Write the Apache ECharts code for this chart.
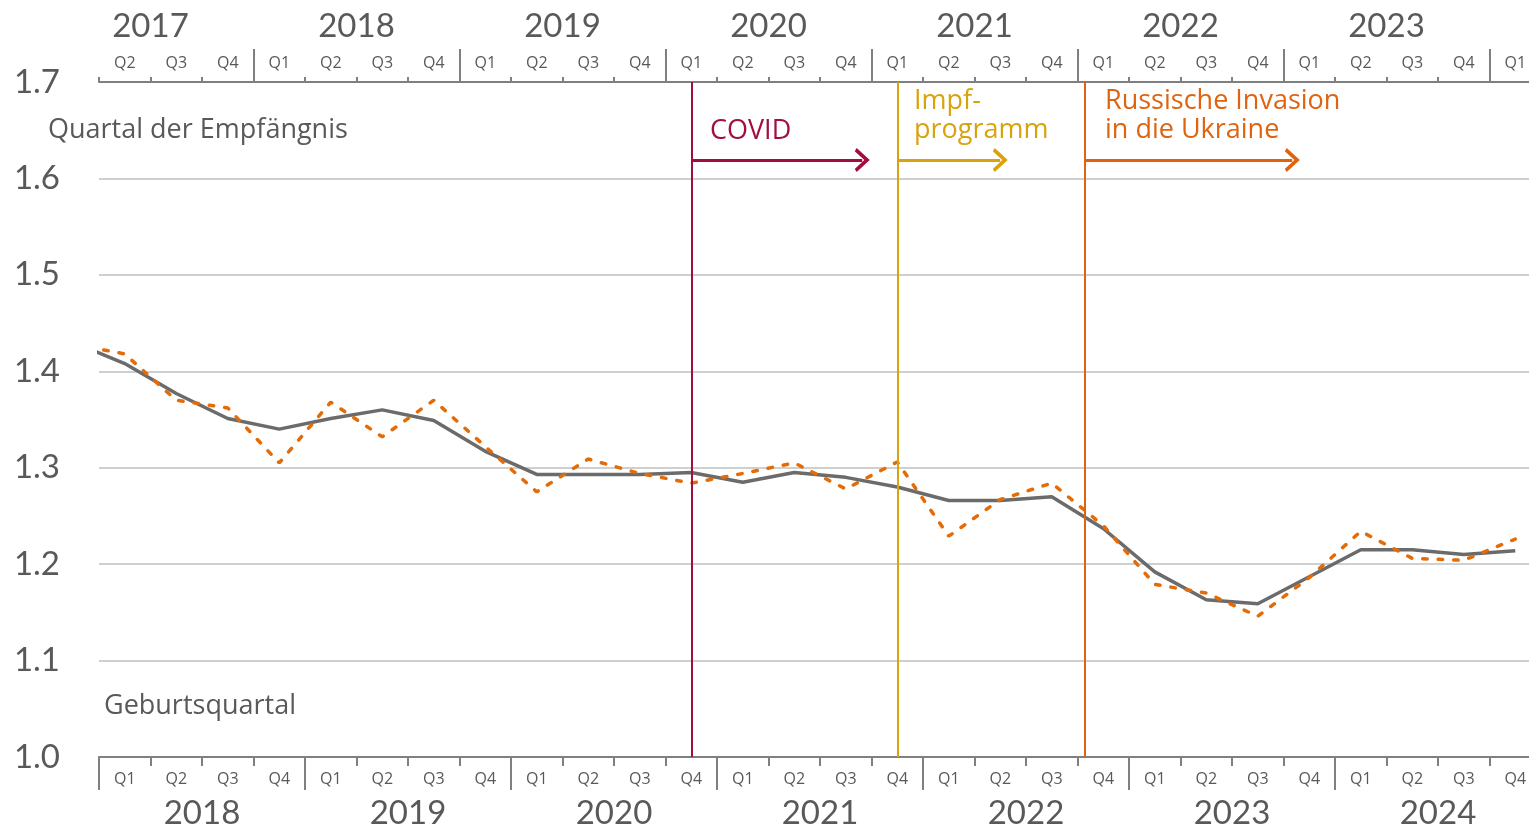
<!DOCTYPE html>
<html>
<head>
<meta charset="utf-8">
<script src="https://cdn.jsdelivr.net/npm/echarts@6.0.0/dist/echarts.min.js"></script>
<style>
	html, body { margin: 0; padding: 0; background: #fff; }
	#chart { width: 1529px; height: 828px; }
</style>
</head>
<body>
<div id="chart"></div>
<script>
// Geburtsquartal (unten) und Quartal der Empfängnis (oben)
var geburtsQuartale = ['Q1', 'Q2', 'Q3', 'Q4', 'Q1', 'Q2', 'Q3', 'Q4', 'Q1', 'Q2', 'Q3', 'Q4', 'Q1', 'Q2',
	'Q3', 'Q4', 'Q1', 'Q2', 'Q3', 'Q4', 'Q1', 'Q2', 'Q3', 'Q4', 'Q1', 'Q2', 'Q3', 'Q4'];
var geburtsJahre = ['2018', '2019', '2020', '2021', '2022', '2023', '2024'];
var empfQuartale = ['Q2', 'Q3', 'Q4', 'Q1', 'Q2', 'Q3', 'Q4', 'Q1', 'Q2', 'Q3', 'Q4', 'Q1', 'Q2', 'Q3',
	'Q4', 'Q1', 'Q2', 'Q3', 'Q4', 'Q1', 'Q2', 'Q3', 'Q4', 'Q1', 'Q2', 'Q3', 'Q4', 'Q1'];
var empfJahre = ['2017', '2018', '2019', '2020', '2021', '2022', '2023', '2024'];

// erster Wert = Quartal vor 2018 Q1 (nur angeschnitten sichtbar)
var geburt = [1.430, 1.408, 1.377, 1.351, 1.340, 1.351, 1.360, 1.349, 1.317, 1.293, 1.293, 1.293, 1.295,
	1.285, 1.295, 1.290, 1.280, 1.266, 1.266, 1.270, 1.237, 1.192, 1.163, 1.159, 1.187, 1.215, 1.215,
	1.210, 1.214];
var empfaengnis = [1.428, 1.418, 1.370, 1.362, 1.305, 1.368, 1.332, 1.370, 1.322, 1.275, 1.309, 1.294,
	1.284, 1.294, 1.305, 1.278, 1.306, 1.229, 1.267, 1.284, 1.240, 1.179, 1.170, 1.146, 1.186, 1.234,
	1.206, 1.204, 1.226];

var yMin = 1.0, yMax = 1.7, yStep = 0.1;

// Ereignisse: Lage auf der Quartalsachse (Index), Pfeilende, Höhe des Pfeils
var ereignisName = ['COVID', 'Impf-\nprogramm', 'Russische Invasion\nin die Ukraine'];
var ereignisStart = [11, 15, 18.65];
var ereignisEnde = [14.32, 17.0, 22.67];
var pfeilWert = 1.619;
var ereignisFarbe = ['#a30d3f', '#d8a30c', '#e0640f'];

var grau = '#595959';
var achsGrau = '#808080';
var schrift = 'Lato';
var textSchrift = '"Open Sans"';

function toPoints(arr) {
	var out = [];
	for (var i = 0; i < arr.length; i++) {
		out.push([i - 1, arr[i]]);
	}
	return out;
}

var pfeil = 'path://M0,13 L12,0 L24,13 L20.8,15 L12,5.4 L3.2,15 Z';

var markData = [];
for (var k = 0; k < ereignisStart.length; k++) {
	markData.push({
		xAxis: ereignisStart[k],
		symbol: 'none',
		lineStyle: { color: ereignisFarbe[k], width: 2, type: 'solid' }
	});
	markData.push([{
		coord: [ereignisStart[k], pfeilWert],
		symbol: 'none',
		lineStyle: { color: ereignisFarbe[k], width: 3, type: 'solid' }
	}, {
		coord: [ereignisEnde[k], pfeilWert],
		symbol: pfeil,
		symbolSize: [24, 15]
	}]);
}

var texte = [
	{ type: 'text', left: 48, top: 117, style: { text: 'Quartal der Empfängnis', font: '27px ' + textSchrift, fill: grau } },
	{ type: 'text', left: 104, top: 693, style: { text: 'Geburtsquartal', font: '27px ' + textSchrift, fill: grau } }
];
var textX = [710, 914, 1105];
var textY = [117, 87, 87];
for (var t = 0; t < ereignisName.length; t++) {
	texte.push({
		type: 'text', left: textX[t], top: textY[t],
		style: { text: ereignisName[t], font: '27px ' + textSchrift, fill: ereignisFarbe[t], lineHeight: 29 }
	});
}

var myChart = echarts.init(document.getElementById('chart'));
var option = {
	animation: false,
	textStyle: { fontFamily: schrift },
	grid: [
		{ left: 99, right: -12, top: 82, bottom: 71, outerBoundsMode: 'none', containLabel: false },
		{ left: 47.5, right: -166.5, top: 82, bottom: 71, outerBoundsMode: 'none', containLabel: false }
	],
	xAxis: [{
			type: 'value',
			gridIndex: 0,
			min: -0.5,
			max: 27.5,
			show: false
		}, {
			type: 'category',
			gridIndex: 0,
			position: 'bottom',
			data: geburtsQuartale,
			axisLine: { show: true, onZero: false, lineStyle: { color: achsGrau, width: 2 } },
			axisTick: { show: true, length: 9, interval: 0, lineStyle: { color: achsGrau, width: 2 } },
			axisLabel: { interval: 0, fontSize: 16, fontFamily: textSchrift, color: grau, margin: 14 },
			splitLine: { show: false }
		}, {
			type: 'category',
			gridIndex: 0,
			position: 'bottom',
			data: geburtsJahre,
			axisLine: { show: false, onZero: false },
			axisTick: { show: true, length: 33, interval: 0, lineStyle: { color: achsGrau, width: 2 } },
			axisLabel: { interval: 0, fontSize: 33, color: grau, margin: 40 },
			splitLine: { show: false }
		}, {
			type: 'category',
			gridIndex: 0,
			position: 'top',
			data: empfQuartale,
			axisLine: { show: true, onZero: false, lineStyle: { color: achsGrau, width: 2 } },
			axisTick: { show: true, length: 5, interval: 0, lineStyle: { color: achsGrau, width: 2 } },
			axisLabel: { interval: 0, fontSize: 16, fontFamily: textSchrift, color: grau, margin: 11 },
			splitLine: { show: false }
		}, {
			type: 'category',
			gridIndex: 1,
			position: 'top',
			data: empfJahre,
			axisLine: { show: false, onZero: false },
			axisTick: {
				show: true,
				length: 33,
				interval: function(i) { return i > 0; },
				lineStyle: { color: achsGrau, width: 2 }
			},
			axisLabel: { interval: 0, fontSize: 33, color: grau, margin: 39 },
			splitLine: { show: false }
		}
	],
	yAxis: [{
			type: 'value',
			gridIndex: 0,
			min: yMin,
			max: yMax,
			interval: yStep,
			axisLine: { show: false },
			axisTick: { show: false },
			axisLabel: {
				fontSize: 33,
				color: grau,
				margin: 39,
				formatter: function(v) { return v.toFixed(1); }
			},
			splitLine: { lineStyle: { color: '#bfbfbf', width: 1.5 } }
		}, {
			type: 'value',
			gridIndex: 1,
			min: 0,
			max: 1,
			show: false
		}
	],
	graphic: texte,
	series: [{
			name: 'Geburtsquartal',
			type: 'line',
			xAxisIndex: 0,
			yAxisIndex: 0,
			data: toPoints(geburt),
			showSymbol: false,
			symbol: 'none',
			lineStyle: { color: '#6b6b6b', width: 3.5 },
			markLine: {
				silent: true,
				symbol: ['none', 'none'],
				label: { show: false },
				emphasis: { disabled: true },
				data: markData
			},
			z: 3
		}, {
			name: 'Quartal der Empfängnis',
			type: 'line',
			xAxisIndex: 0,
			yAxisIndex: 0,
			data: toPoints(empfaengnis),
			showSymbol: false,
			symbol: 'none',
			lineStyle: { color: '#e36c09', width: 3.5, type: [4.5, 11], cap: 'round' },
			z: 4
		}
	]
};

myChart.setOption(option);
</script>
</body>
</html>
